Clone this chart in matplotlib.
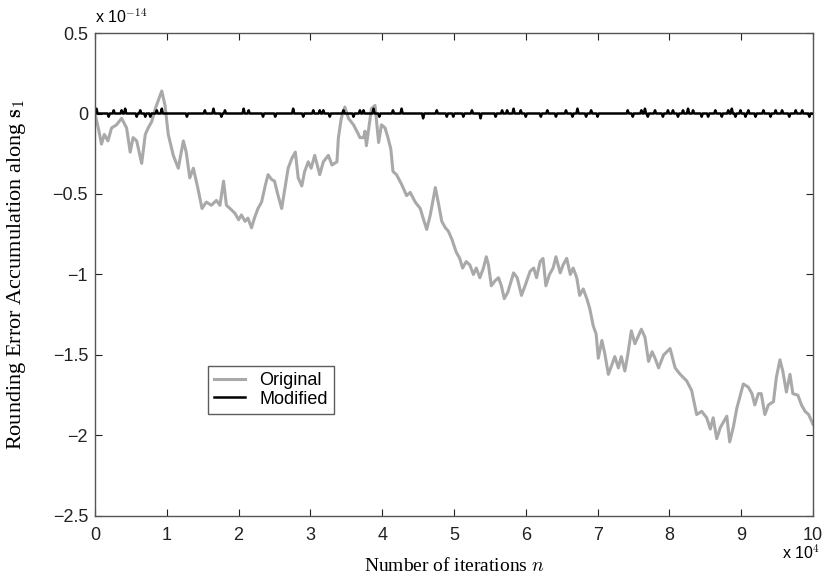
import matplotlib
matplotlib.use('Agg')
import matplotlib.pyplot as plt
import numpy as np

plt.rcParams['mathtext.fontset'] = 'cm'

# iterations in units of 1e4, errors in units of 1e-14
orig_x = [0.00, 0.05, 0.09, 0.13, 0.18, 0.23, 0.30, 0.37, 0.44, 0.49, 0.53, 0.58, 0.65, 0.70,
          0.74, 0.79, 0.84, 0.88, 0.93, 0.975, 1.02, 1.09, 1.16, 1.23, 1.27, 1.32, 1.37, 1.44,
          1.49, 1.55, 1.62, 1.69, 1.74, 1.79, 1.83, 1.88, 1.95, 2.00, 2.04, 2.09, 2.13, 2.18,
          2.22, 2.27, 2.32, 2.37, 2.41, 2.46, 2.50, 2.55, 2.60, 2.65, 2.69, 2.74, 2.79, 2.83,
          2.88, 2.92, 2.97, 3.01, 3.06, 3.13, 3.18, 3.25, 3.30, 3.37, 3.39, 3.43, 3.48, 3.53,
          3.60, 3.67, 3.69, 3.74, 3.76, 3.78, 3.85, 3.90, 3.95, 3.99, 4.04, 4.08, 4.12, 4.15,
          4.20, 4.27, 4.34, 4.39, 4.46, 4.53, 4.57, 4.62, 4.67, 4.74, 4.78, 4.83, 4.88, 4.92,
          4.97, 5.03, 5.08, 5.12, 5.17, 5.22, 5.27, 5.31, 5.36, 5.41, 5.45, 5.48, 5.52, 5.57,
          5.62, 5.66, 5.70, 5.75, 5.83, 5.88, 5.94, 5.99, 6.06, 6.11, 6.15, 6.20, 6.24, 6.28,
          6.33, 6.38, 6.42, 6.48, 6.52, 6.57, 6.62, 6.66, 6.71, 6.75, 6.80, 6.85, 6.89, 6.94,
          6.98, 7.01, 7.06, 7.10, 7.15, 7.20, 7.24, 7.29, 7.33, 7.38, 7.42, 7.47, 7.52, 7.56,
          7.61, 7.66, 7.71, 7.76, 7.80, 7.85, 7.92, 8.01, 8.08, 8.15, 8.24, 8.31, 8.38, 8.45,
          8.52, 8.57, 8.61, 8.66, 8.71, 8.80, 8.84, 8.89, 8.94, 9.03, 9.10, 9.15, 9.19, 9.24,
          9.28, 9.33, 9.38, 9.45, 9.49, 9.54, 9.58, 9.63, 9.68, 9.72, 9.79, 9.84, 9.89, 9.94,
          10.0]
orig_y = [0.00, -0.10, -0.19, -0.13, -0.17, -0.09, -0.07, -0.03, -0.09, -0.24, -0.15, -0.17,
          -0.31, -0.13, -0.09, -0.05, 0.03, 0.08, 0.14, 0.05, -0.13, -0.26, -0.34, -0.17, -0.24,
          -0.40, -0.34, -0.48, -0.59, -0.55, -0.57, -0.54, -0.57, -0.42, -0.57, -0.59, -0.62,
          -0.66, -0.63, -0.67, -0.65, -0.71, -0.65, -0.59, -0.55, -0.45, -0.38, -0.41, -0.42,
          -0.51, -0.59, -0.45, -0.34, -0.28, -0.24, -0.40, -0.45, -0.36, -0.30, -0.34, -0.26,
          -0.38, -0.30, -0.26, -0.32, -0.30, -0.15, -0.03, 0.04, -0.03, -0.07, -0.13, -0.15,
          -0.15, -0.11, -0.20, 0.03, 0.05, -0.18, -0.07, -0.09, -0.15, -0.22, -0.36, -0.38,
          -0.44, -0.51, -0.49, -0.55, -0.59, -0.65, -0.72, -0.63, -0.46, -0.55, -0.67, -0.71,
          -0.73, -0.78, -0.86, -0.90, -0.96, -0.92, -0.94, -1.00, -0.96, -1.02, -0.96, -0.89,
          -0.94, -1.07, -1.04, -1.02, -1.07, -1.15, -1.11, -0.99, -1.02, -1.13, -1.07, -0.98,
          -0.96, -1.02, -0.92, -0.90, -1.07, -1.00, -0.96, -0.89, -0.99, -0.94, -0.90, -1.00,
          -0.96, -1.02, -1.13, -1.09, -1.15, -1.21, -1.32, -1.37, -1.52, -1.41, -1.49, -1.62,
          -1.56, -1.51, -1.58, -1.51, -1.60, -1.50, -1.35, -1.43, -1.39, -1.34, -1.39, -1.54,
          -1.48, -1.52, -1.58, -1.50, -1.46, -1.58, -1.62, -1.66, -1.72, -1.87, -1.85, -1.89,
          -1.96, -1.89, -2.02, -1.95, -1.88, -2.04, -1.95, -1.83, -1.68, -1.70, -1.74, -1.81,
          -1.74, -1.74, -1.87, -1.81, -1.79, -1.64, -1.53, -1.60, -1.73, -1.62, -1.74, -1.75,
          -1.81, -1.85, -1.87, -1.93]

# modified: flat at zero with small blips
blip_x = [0.02, 0.19, 0.26, 0.37, 0.42, 0.58, 0.63, 0.70, 0.77, 0.86, 0.93, 1.28, 1.53, 1.65,
          1.76, 1.81, 2.07, 2.14, 2.34, 2.51, 2.76, 2.90, 3.04, 3.13, 3.18, 3.27, 3.46, 3.60,
          3.69, 3.74, 3.88, 3.96, 4.15, 4.27, 4.57, 4.76, 4.90, 4.99, 5.13, 5.25, 5.37, 5.58,
          5.67, 5.74, 5.83, 5.93, 6.00, 6.21, 6.30, 6.42, 6.56, 6.65, 6.72, 6.84, 6.91, 7.00,
          7.42, 7.49, 7.61, 7.66, 7.70, 7.80, 7.91, 7.98, 8.05, 8.12, 8.19, 8.26, 8.33, 8.45,
          8.54, 8.64, 8.73, 8.82, 8.87, 8.92, 8.99, 9.06, 9.10, 9.20, 9.31, 9.41, 9.48, 9.57,
          9.67, 9.76, 9.85, 9.95]
blip_y = [0.03, -0.02, 0.02, 0.02, 0.03, -0.02, 0.02, -0.02, -0.02, 0.02, 0.03, -0.02, 0.02,
          0.03, -0.02, 0.02, 0.03, 0.02, -0.02, -0.02, 0.03, -0.02, 0.02, 0.02, 0.02, -0.02,
          0.02, -0.02, 0.02, 0.02, 0.03, -0.02, 0.02, 0.03, -0.03, 0.02, -0.02, -0.02, -0.02,
          0.02, -0.03, -0.02, 0.02, 0.02, 0.03, 0.02, -0.02, -0.02, 0.02, -0.02, 0.02, -0.02,
          0.03, -0.02, 0.02, -0.02, 0.02, -0.02, 0.02, 0.03, -0.02, 0.02, -0.02, 0.02, 0.02,
          -0.02, 0.02, 0.03, 0.02, -0.02, -0.02, 0.02, -0.02, 0.02, 0.03, -0.02, 0.02, -0.02,
          0.02, -0.02, 0.02, -0.02, 0.02, 0.02, -0.02, 0.02, 0.02, -0.02]

mod_x = [0.0]
mod_y = [0.0]
for bx, by in zip(blip_x, blip_y):
    mod_x += [bx - 0.015, bx, bx + 0.015]
    mod_y += [0.0, by, 0.0]
mod_x.append(10.0)
mod_y.append(0.0)

fig = plt.figure(figsize=(8.22, 5.76), dpi=100)
ax = fig.add_axes([0.1156, 0.1042, 0.8734, 0.8385])

ax.plot(orig_x, orig_y, color='#a9a9a9', lw=2.2, label='Original')
ax.plot(mod_x, mod_y, color='black', lw=1.8, label='Modified')

ax.set_xlim(0, 10)
ax.set_ylim(-2.5, 0.5)
ax.set_xticks(np.arange(0, 11, 1))
ax.set_yticks([-2.5, -2, -1.5, -1, -0.5, 0, 0.5])
ax.set_yticklabels(['\u22122.5', '\u22122', '\u22121.5', '\u22121', '\u22120.5', '0', '0.5'])
ax.tick_params(direction='in', length=5, width=0.8, top=True, right=True,
               labelsize=13, colors='#222222')
ax.tick_params(axis='x', pad=8)
ax.tick_params(axis='y', pad=5)
for lab in ax.get_xticklabels() + ax.get_yticklabels():
    lab.set_family('Liberation Sans')
for s in ax.spines.values():
    s.set_color('#555555')
    s.set_linewidth(1.0)

ax.set_xlabel('Number of iterations $n$', family='Liberation Serif', fontsize=14)
ax.set_ylabel(r'Rounding Error Accumulation along $\mathbf{s}_1$', family='Liberation Serif',
              fontsize=16)
ax.xaxis.set_label_coords(0.5, -0.085)
ax.yaxis.set_label_coords(-0.093, 0.5)

ax.text(0.0, 1.015, 'x 10$^{-14}$', transform=ax.transAxes, fontsize=11.5,
        family='Liberation Sans', ha='left', va='bottom')
ax.text(1.01, -0.095, 'x 10$^{4}$', transform=ax.transAxes, fontsize=11.5,
        family='Liberation Sans', ha='right', va='bottom')

leg = ax.legend(loc='lower left', bbox_to_anchor=(0.157, 0.211), borderaxespad=0,
                fancybox=False, edgecolor='#333333', handlelength=1.7,
                borderpad=0.35, labelspacing=0.1, prop={'family': 'Liberation Sans', 'size': 13})
leg.get_frame().set_linewidth(1.0)

fig.savefig('out.png', dpi=100)
